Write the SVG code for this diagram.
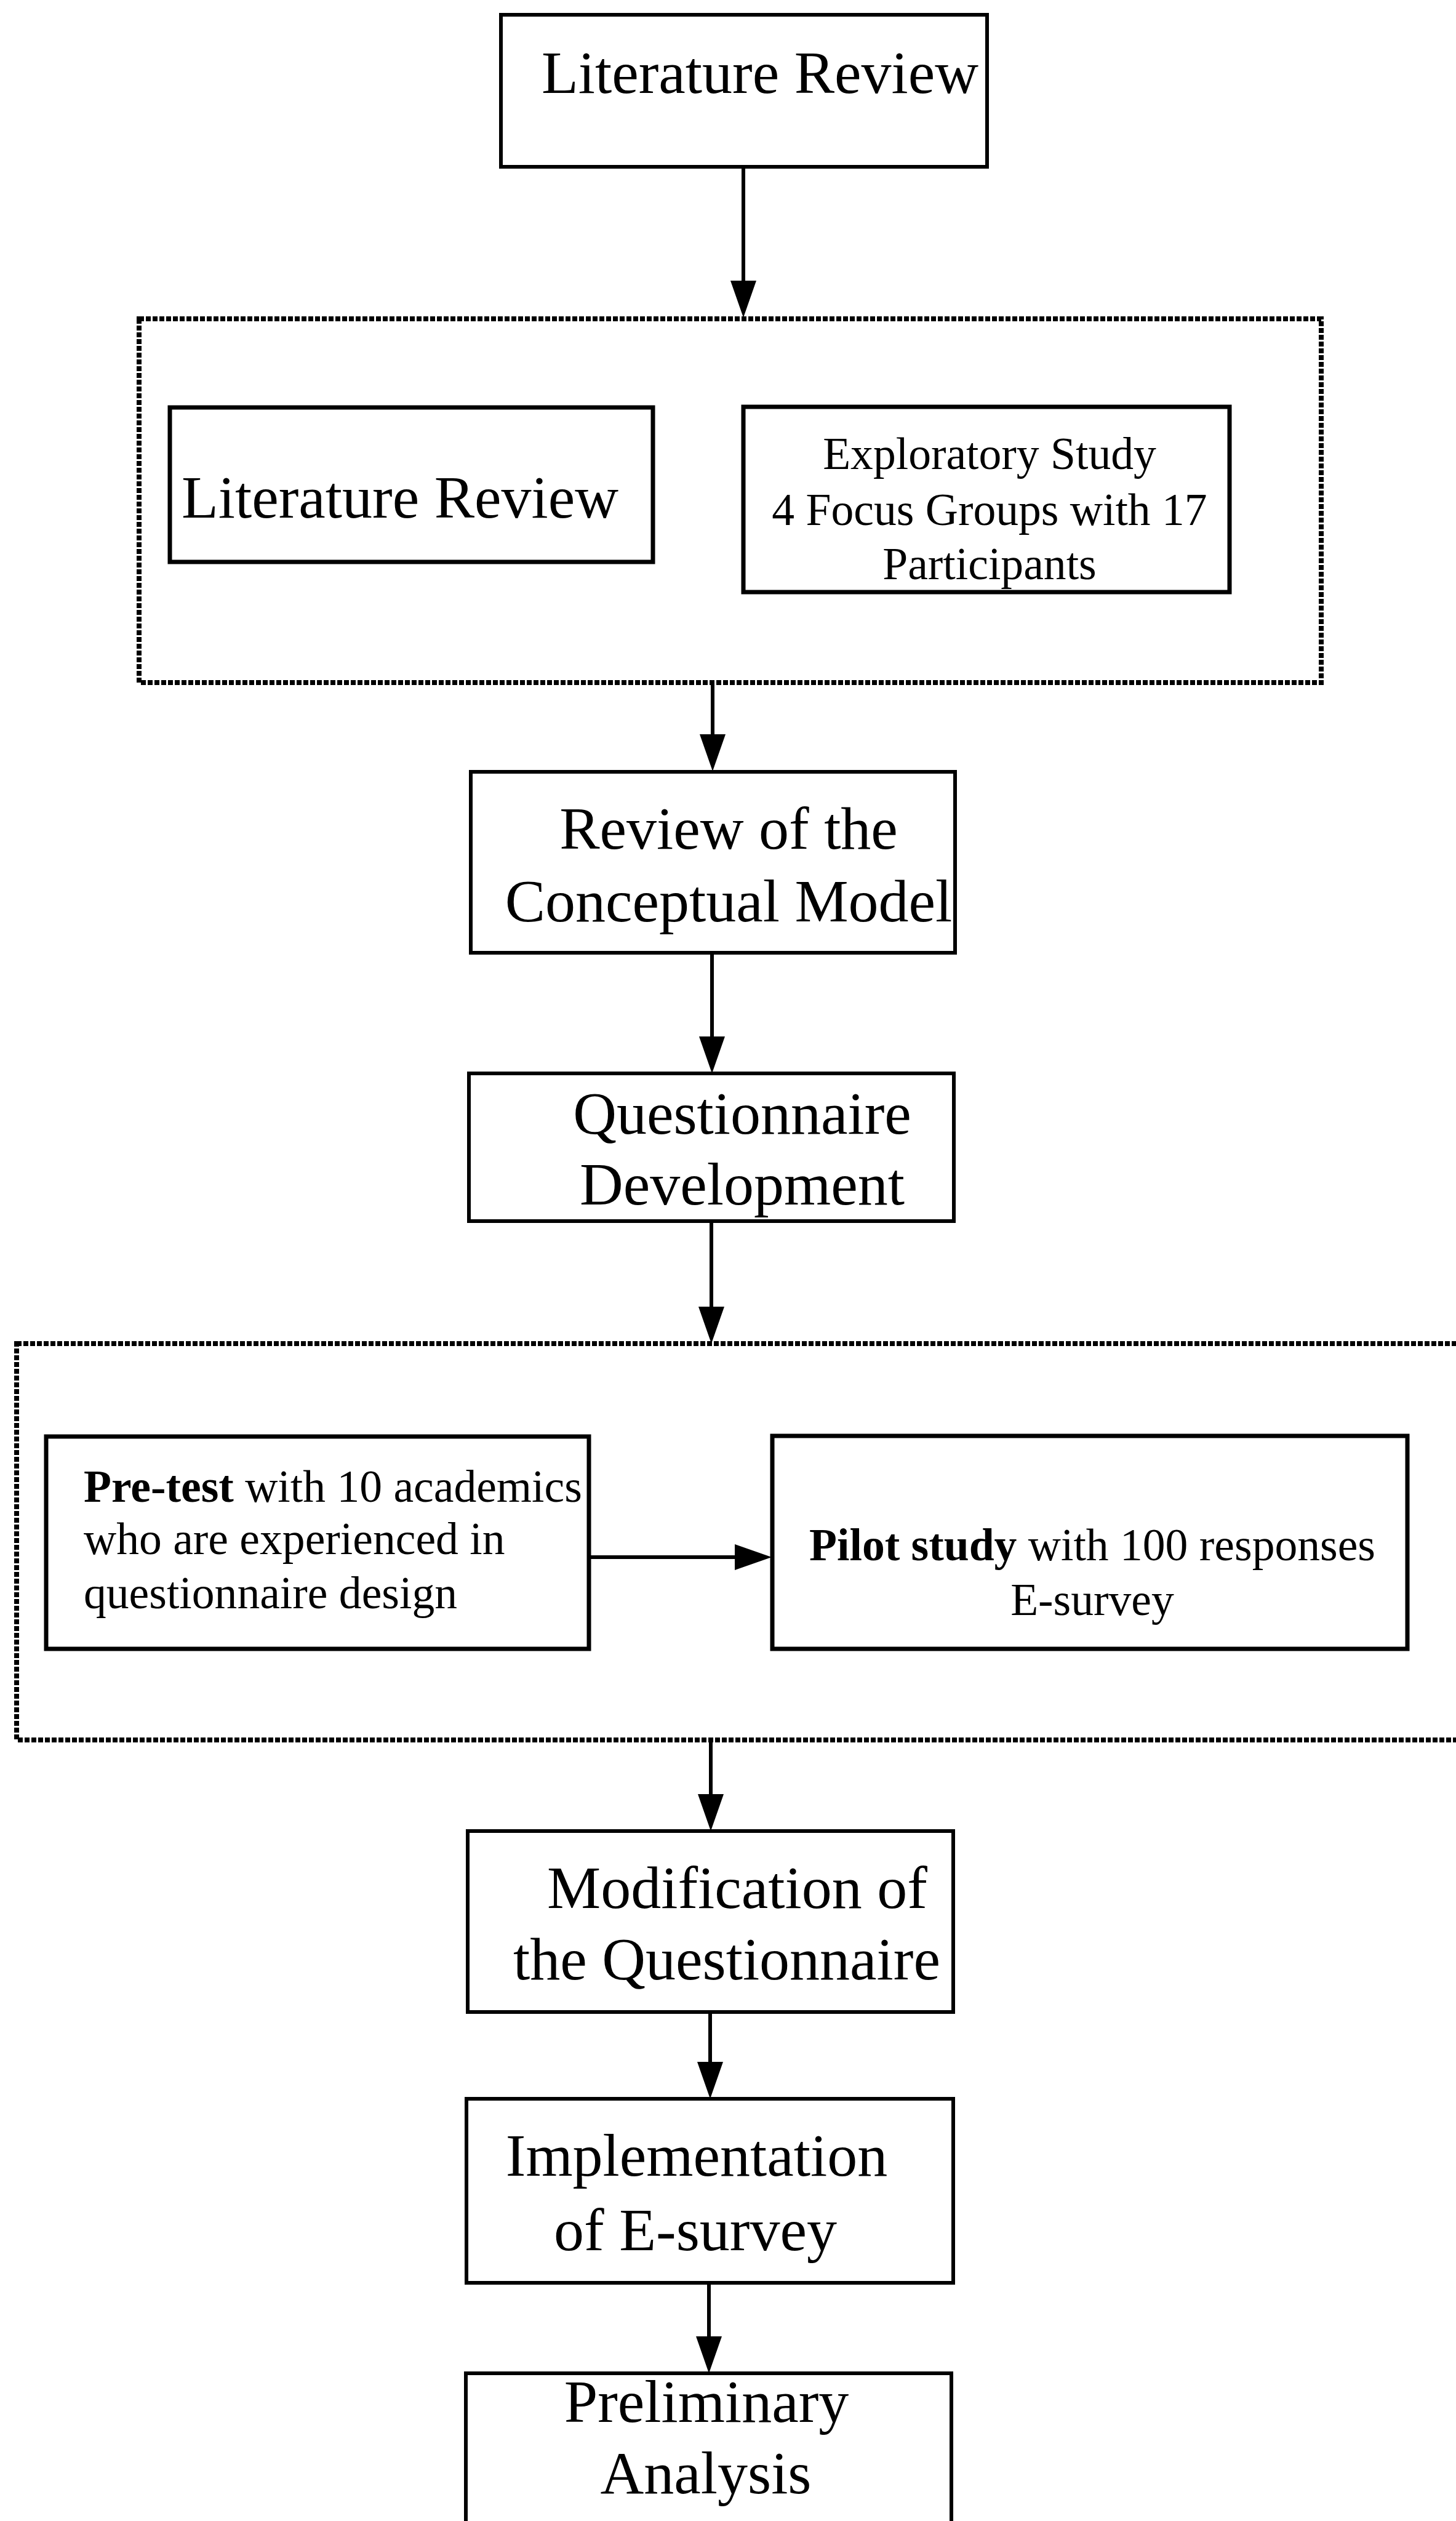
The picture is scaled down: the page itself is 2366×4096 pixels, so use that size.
<svg xmlns="http://www.w3.org/2000/svg" width="2366" height="4096" viewBox="0 0 2366 4096">
<defs>
<style>
.box{fill:#fff;stroke:#000;stroke-width:6}
.inner{fill:#fff;stroke:#000;stroke-width:7}
.group{fill:none;stroke:#000;stroke-width:8;stroke-dasharray:8 3}
.big{font-family:"Liberation Serif","Times New Roman",serif;font-size:98px;fill:#000}
.small{font-family:"Liberation Serif","Times New Roman",serif;font-size:73.6px;fill:#000}
.c{text-anchor:middle}
.conn{stroke:#000;stroke-width:6;fill:none;marker-end:url(#ah)}
</style>
<marker id="ah" markerUnits="userSpaceOnUse" markerWidth="60" markerHeight="42" refX="0" refY="21" orient="auto">
<path d="M0,0 L60,21 L0,42 Z" fill="#000"/>
</marker>
</defs>
<rect width="2366" height="4096" fill="#fff"/>

<g id="group1"><rect class="group" x="226" y="518" width="1921" height="591"/></g>
<g id="group2"><rect class="group" x="27" y="2183" width="2400" height="644"/></g>

<g id="n1"><rect class="box" x="814" y="24" width="790" height="247"/>
<text class="big c" x="1235" y="151">Literature Review</text></g>

<g id="n2"><rect class="inner" x="276" y="662" width="785" height="251"/>
<text class="big c" x="650" y="841">Literature Review</text></g>

<g id="n3"><rect class="inner" x="1208" y="661" width="790" height="301"/>
<text class="small c" x="1608" y="762">Exploratory Study</text>
<text class="small c" x="1608" y="853">4 Focus Groups with 17</text>
<text class="small c" x="1608" y="941">Participants</text></g>

<g id="n4"><rect class="box" x="765" y="1254" width="787" height="294"/>
<text class="big c" x="1184" y="1379">Review of the</text>
<text class="big c" x="1184" y="1497">Conceptual Model</text></g>

<g id="n5"><rect class="box" x="762" y="1744" width="788" height="240"/>
<text class="big c" x="1206" y="1842">Questionnaire</text>
<text class="big c" x="1206" y="1957">Development</text></g>

<g id="n6"><rect class="inner" x="75" y="2334" width="882" height="345"/>
<text class="small" x="136" y="2440"><tspan font-weight="bold">Pre-test</tspan> with 10 academics</text>
<text class="small" x="136" y="2525">who are experienced in</text>
<text class="small" x="136" y="2613">questionnaire design</text></g>

<g id="n7"><rect class="inner" x="1255" y="2333" width="1032" height="346"/>
<text class="small c" x="1775" y="2535"><tspan font-weight="bold">Pilot study</tspan> with 100 responses</text>
<text class="small c" x="1775" y="2624">E-survey</text></g>

<g id="n8"><rect class="box" x="760" y="2975" width="789" height="294"/>
<text class="big c" x="1198" y="3100">Modification of</text>
<text class="big c" x="1181" y="3216">the Questionnaire</text></g>

<g id="n9"><rect class="box" x="758" y="3410" width="791" height="299"/>
<text class="big c" x="1132" y="3535">Implementation</text>
<text class="big c" x="1130" y="3656">of E-survey</text></g>

<g id="n10"><rect class="box" x="757" y="3856" width="789" height="300"/>
<text class="big c" x="1148" y="3935">Preliminary</text>
<text class="big c" x="1147" y="4051">Analysis</text></g>

<g id="connectors">
<line class="conn" x1="1208" y1="271" x2="1208" y2="456"/>
<line class="conn" x1="1158" y1="1109" x2="1158" y2="1193"/>
<line class="conn" x1="1157" y1="1548" x2="1157" y2="1684"/>
<line class="conn" x1="1156" y1="1984" x2="1156" y2="2123"/>
<line class="conn" x1="957" y1="2530" x2="1194" y2="2530"/>
<line class="conn" x1="1155" y1="2827" x2="1155" y2="2915"/>
<line class="conn" x1="1154" y1="3269" x2="1154" y2="3350"/>
<line class="conn" x1="1152" y1="3709" x2="1152" y2="3796"/>
</g>
</svg>
